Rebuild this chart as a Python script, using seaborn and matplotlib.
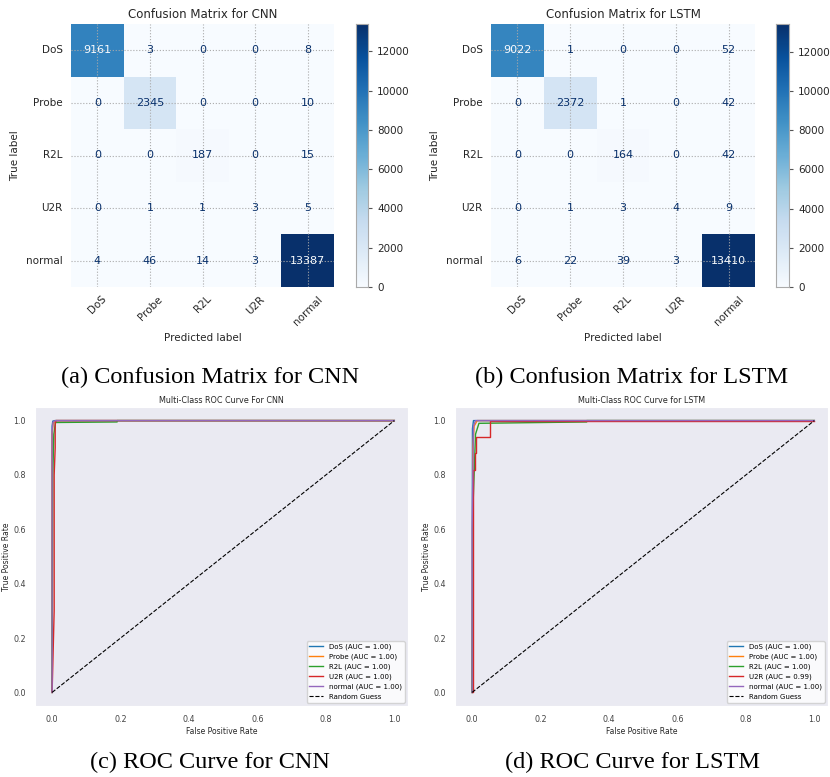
import numpy as np
import pandas as pd
import seaborn as sns
import matplotlib.pyplot as plt

labels = ['DoS', 'Probe', 'R2L', 'U2R', 'normal']

cm_cnn = [[9161, 3, 0, 0, 8],
          [0, 2345, 0, 0, 10],
          [0, 0, 187, 0, 15],
          [0, 1, 1, 3, 5],
          [4, 46, 14, 3, 13387]]

cm_lstm = [[9022, 1, 0, 0, 52],
           [0, 2372, 1, 0, 42],
           [0, 0, 164, 0, 42],
           [0, 1, 3, 4, 9],
           [6, 22, 39, 3, 13410]]

# ROC points (fpr, tpr) per class
roc_cnn = {
    'DoS':    ([0, 0, 0.002, 0.008, 1], [0, 0.98, 0.998, 1, 1]),
    'Probe':  ([0, 0, 0.003, 0.01, 1], [0, 0.95, 0.99, 1, 1]),
    'R2L':    ([0, 0.002, 0.005, 0.01, 0.19, 0.19, 1], [0, 0.8, 0.95, 0.993, 0.995, 1, 1]),
    'U2R':    ([0, 0.006, 0.006, 0.009, 0.009, 0.012, 1], [0, 0.3, 0.8, 0.9, 0.99, 1, 1]),
    'normal': ([0, 0, 0.003, 0.01, 1], [0, 0.96, 0.995, 1, 1]),
}
auc_cnn = [1.00, 1.00, 1.00, 1.00, 1.00]

roc_lstm = {
    'DoS':    ([0, 0.001, 0.004, 1], [0, 0.97, 1.0, 1]),
    'Probe':  ([0, 0.002, 0.006, 0.015, 1], [0, 0.9, 0.98, 1, 1]),
    'R2L':    ([0, 0.003, 0.01, 0.02, 0.335, 0.335, 1], [0, 0.7, 0.95, 0.99, 0.995, 1, 1]),
    'U2R':    ([0, 0.004, 0.004, 0.009, 0.009, 0.012, 0.012, 0.053, 0.053, 1],
               [0, 0, 0.82, 0.82, 0.88, 0.88, 0.94, 0.94, 1, 1]),
    'normal': ([0, 0, 0.004, 0.01, 1], [0, 0.6, 0.98, 1, 1]),
}
auc_lstm = [1.00, 1.00, 1.00, 0.99, 1.00]

W, H = 830, 777
fig = plt.figure(figsize=(W / 100, H / 100), dpi=100)


def box(l, t, r, b):
    return [l / W, 1 - b / H, (r - l) / W, (b - t) / H]


def draw_cm(cm, title, ax_box, cb_box):
    with sns.axes_style('white'):
        ax = fig.add_axes(ax_box)
        cax = fig.add_axes(cb_box)
    df = pd.DataFrame(cm, index=labels, columns=labels)
    vmax = df.values.max()
    sns.heatmap(df, ax=ax, cbar_ax=cax, cmap='Blues', vmin=0, vmax=vmax,
                annot=True, fmt='d', annot_kws={'fontsize': 8})
    # recolour the numbers like sklearn does
    thresh = vmax / 2
    for t in ax.texts:
        t.set_color('#f7fbff' if int(t.get_text()) > thresh else '#08306b')
    ax.grid(True, linestyle=':', color='#aaaaaa', linewidth=0.8)
    ax.set_axisbelow(False)
    ax.set_title(title, fontsize=8.5, color='#262626', pad=4)
    ax.set_xlabel('Predicted label', fontsize=7.5, color='#262626')
    ax.set_ylabel('True label', fontsize=7.5, color='#262626')
    ax.tick_params(axis='x', labelsize=7.5, rotation=45, labelcolor='#262626', length=0, pad=5)
    ax.tick_params(axis='y', labelsize=7.5, rotation=0, labelcolor='#262626', length=0, pad=6)
    cax.set_yticks(range(0, 12001, 2000))
    cax.tick_params(labelsize=7.5, labelcolor='#262626', length=3, color='#555555')
    for s in cax.spines.values():
        s.set_visible(True)
        s.set_color('#aaaaaa')


def draw_roc(curves, aucs, title, ax_box):
    with sns.axes_style('darkgrid'):
        ax = fig.add_axes(ax_box)
    for i, (name, (fpr, tpr)) in enumerate(curves.items()):
        sns.lineplot(x=fpr, y=tpr, ax=ax, sort=False, estimator=None, color=f'C{i}',
                     linewidth=1.0, label=f'{name} (AUC = {aucs[i]:.2f})')
    ax.plot([0, 1], [0, 1], 'k--', linewidth=0.8, label='Random Guess')
    ax.grid(False)
    ax.set_xlim(-0.05, 1.04)
    ax.set_title(title, fontsize=5.8, color='#262626', pad=3)
    ax.set_xlabel('False Positive Rate', fontsize=5.5, color='#262626', labelpad=2)
    ax.set_ylabel('True Positive Rate', fontsize=5.5, color='#262626', labelpad=2)
    ax.set_xticks([0, 0.2, 0.4, 0.6, 0.8, 1.0])
    ax.set_yticks([0, 0.2, 0.4, 0.6, 0.8, 1.0])
    ax.tick_params(labelsize=5.8, labelcolor='#444444', pad=3)
    ax.legend(loc='lower right', fontsize=5, framealpha=0.8)


draw_cm(cm_cnn, 'Confusion Matrix for CNN', box(71, 24, 334, 287), box(356, 24, 368, 287))
draw_cm(cm_lstm, 'Confusion Matrix for LSTM', box(491, 24, 755, 287), box(776, 24, 789, 287))

draw_roc(roc_cnn, auc_cnn, 'Multi-Class ROC Curve For CNN', box(35, 407, 408, 706))
draw_roc(roc_lstm, auc_lstm, 'Multi-Class ROC Curve for LSTM', box(455, 407, 828, 706))

cap = dict(fontsize=17.5, family='Liberation Serif', ha='center', va='center', color='black')
fig.text(210 / W, 1 - 377 / H, '(a) Confusion Matrix for CNN', **cap)
fig.text(632 / W, 1 - 377 / H, '(b) Confusion Matrix for LSTM', **cap)
fig.text(210 / W, 1 - 762 / H, '(c) ROC Curve for CNN', **cap)
fig.text(632 / W, 1 - 762 / H, '(d) ROC Curve for LSTM', **cap)

fig.savefig('out.png', dpi=100)
